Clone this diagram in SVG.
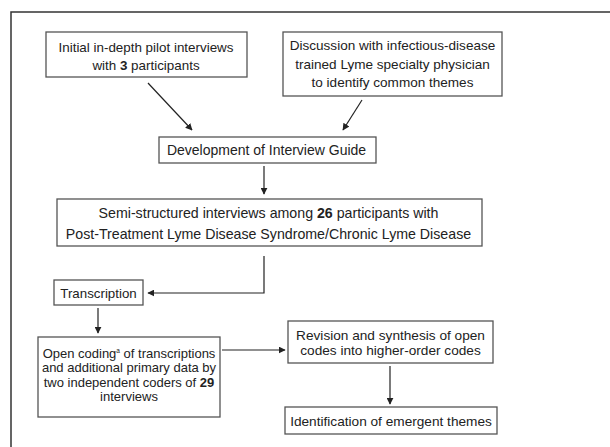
<svg xmlns="http://www.w3.org/2000/svg" width="610" height="447" viewBox="0 0 610 447">
<defs>
<marker id="ah" viewBox="0 0 10 10" refX="9" refY="5" markerWidth="7" markerHeight="7" markerUnits="userSpaceOnUse" orient="auto">
<path d="M0,0 L10,5 L0,10 z" fill="#222"/>
</marker>
<style>
.box{fill:#fff;stroke:#555;stroke-width:1.3}
.t{font-family:"Liberation Sans",Arial,sans-serif;fill:#222;text-anchor:middle}
.c{fill:none;stroke:#222;stroke-width:1.2;marker-end:url(#ah)}
</style>
</defs>
<rect width="610" height="447" fill="#fff"/>
<rect x="11" y="12" width="620" height="450" fill="none" stroke="#333" stroke-width="1.5"/>
<g id="n1" font-size="13.4"><rect class="box" x="46" y="32" width="201" height="45"/>
<text class="t" x="146" y="52">Initial in-depth pilot interviews</text>
<text class="t" x="146" y="70">with <tspan font-weight="bold">3</tspan> participants</text></g>
<g id="n2" font-size="13.55"><rect class="box" x="283" y="32" width="219" height="64"/>
<text class="t" x="392.5" y="50">Discussion with infectious-disease</text>
<text class="t" x="392.5" y="68.5">trained Lyme specialty physician</text>
<text class="t" x="392.5" y="87">to identify common themes</text></g>
<g id="n3" font-size="14"><rect class="box" x="159" y="137" width="217" height="26"/>
<text class="t" x="266.5" y="155">Development of Interview Guide</text></g>
<g id="n4" font-size="14.2"><rect class="box" x="57" y="199" width="425" height="47"/>
<text class="t" x="268.5" y="218">Semi-structured interviews among <tspan font-weight="bold">26</tspan> participants with</text>
<text class="t" x="268.5" y="239">Post-Treatment Lyme Disease Syndrome/Chronic Lyme Disease</text></g>
<g id="n5" font-size="13.3"><rect class="box" x="54" y="280" width="89" height="25"/>
<text class="t" x="98.5" y="297.5">Transcription</text></g>
<g id="n6" font-size="13"><rect class="box" x="38" y="337" width="182" height="80"/>
<text class="t" x="129" y="358">Open coding<tspan font-size="6.5" dy="-5">a</tspan><tspan dy="5"> of transcriptions</tspan></text>
<text class="t" x="129" y="372.3">and additional primary data by</text>
<text class="t" x="129" y="386.6">two independent coders of <tspan font-weight="bold">29</tspan></text>
<text class="t" x="129" y="401">interviews</text></g>
<g id="n7" font-size="13.65"><rect class="box" x="288" y="321" width="205" height="42"/>
<text class="t" x="390.5" y="340">Revision and synthesis of open</text>
<text class="t" x="390.5" y="355">codes into higher-order codes</text></g>
<g id="n8" font-size="13.65"><rect class="box" x="285" y="407" width="212" height="27"/>
<text class="t" x="391" y="425.5">Identification of emergent themes</text></g>
<g id="connectors">
<line class="c" x1="148" y1="83" x2="192" y2="130"/>
<line class="c" x1="362" y1="100" x2="343" y2="130"/>
<line class="c" x1="264" y1="166" x2="264" y2="194"/>
<polyline class="c" points="264,256 264,293 148,293"/>
<line class="c" x1="98" y1="308" x2="98" y2="333"/>
<line class="c" x1="222" y1="350" x2="285" y2="350"/>
<line class="c" x1="390" y1="366" x2="390" y2="404"/>
</g>
</svg>
